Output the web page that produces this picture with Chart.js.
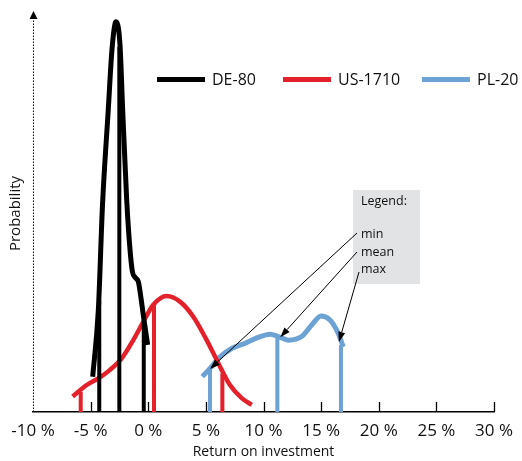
<!DOCTYPE html>
<html>
<head>
<meta charset="utf-8">
<script src="https://cdn.jsdelivr.net/npm/chart.js@4"></script>
<style>
  html, body { margin: 0; padding: 0; background: #fff; }
  #wrap { width: 522px; height: 461px; }
</style>
</head>
<body>
<div id="wrap"><canvas id="chart" width="522" height="461"></canvas></div>
<script>
// Return on investment (%) vs relative probability
const RETURN_TICKS = [-10, -5, 0, 5, 10, 15, 20, 25, 30];
const SERIES_NAMES = ["DE-80", "US-1710", "PL-20"];
const STAT_LABELS = ["min", "mean", "max"];

const deReturn = [-4.82, -4.33, -3.97, -3.47, -3.15, -2.80, -2.45, -2.22, -1.87, -1.58, -1.37, -1.11, -0.85, -0.63, -0.37, -0.05];
const deProb   = [8.9, 25.7, 52.1, 76.1, 91.2, 98.3, 92.4, 76.1, 53.4, 40.8, 35.3, 33.8, 32.7, 28.7, 23.2, 16.9];

const usReturn = [-6.56, -5.34, -4.19, -3.32, -2.30, -1.30, -0.43, 0.44, 1.60, 2.75, 3.91, 5.07, 6.08, 7.09, 8.11, 8.98];
const usProb   = [3.9, 6.8, 8.7, 10.6, 13.5, 18.1, 22.7, 27.0, 29.2, 27.8, 24.0, 18.1, 12.3, 6.8, 3.5, 1.8];

const plReturn = [4.69, 5.36, 6.23, 7.24, 8.39, 9.55, 10.56, 11.28, 12.15, 13.31, 14.18, 14.99, 15.77, 16.49, 16.92];
const plProb   = [8.9, 11.0, 13.9, 16.0, 17.3, 18.8, 19.6, 19.0, 18.1, 19.0, 21.9, 24.2, 23.2, 19.8, 16.4];

// min / mean / max markers: x position and height of each vertical line
const deStatReturn = [-4.25, -2.51, -0.39];
const deStatProb   = [28, 92, 23];
const usStatReturn = [-5.86, 0.50, 6.43];
const usStatProb   = [5.1, 27.0, 9.7];
const plStatReturn = [5.36, 11.2, 16.72];
const plStatProb   = [10.6, 18.6, 16.9];

const C = {
  de: "#000000",
  us: "#e4202a",
  pl: "#6da2d4",
  axis: "#000000",
  boxBg: "#e2e3e4",
  text: "#111111",
};
const FONT = "'Open Sans', 'DejaVu Sans', sans-serif";

const curve = (xs, ys) => xs.map((x, i) => ({ x, y: ys[i] }));
// one dataset per series for the stat lines, broken with nulls
const statLines = (xs, ys) => {
  const out = [];
  xs.forEach((x, i) => {
    out.push({ x, y: 0 }, { x, y: ys[i] }, { x, y: null });
  });
  return out;
};

const curveDs = (label, xs, ys, color, width) => ({
  label,
  data: curve(xs, ys),
  borderColor: color,
  backgroundColor: color,
  borderWidth: width,
  pointRadius: 0,
  cubicInterpolationMode: "monotone",
  fill: false,
});
const statDs = (label, xs, ys, color) => ({
  label,
  data: statLines(xs, ys),
  borderColor: color,
  borderWidth: 4,
  pointRadius: 0,
  tension: 0,
  spanGaps: false,
  borderCapStyle: "butt",
  fill: false,
});

// axis, legends and annotation arrows
const decor = {
  id: "decor",
  beforeDatasetsDraw(chart) {
    const { ctx, chartArea: a, scales: { x } } = chart;
    ctx.save();
    // dotted probability axis with arrow head
    ctx.strokeStyle = C.axis;
    ctx.lineWidth = 1;
    ctx.setLineDash([1.5, 1.5]);
    ctx.beginPath();
    ctx.moveTo(a.left + 0.5, a.bottom);
    ctx.lineTo(a.left + 0.5, a.top + 2);
    ctx.stroke();
    ctx.setLineDash([]);
    ctx.fillStyle = C.axis;
    ctx.beginPath();
    ctx.moveTo(a.left + 0.5, a.top - 4);
    ctx.lineTo(a.left + 4.5, a.top + 4);
    ctx.lineTo(a.left - 3.5, a.top + 4);
    ctx.closePath();
    ctx.fill();
    // tick marks pointing up from the x axis
    ctx.lineWidth = 1.3;
    RETURN_TICKS.slice(1).forEach((v) => {
      const px = Math.round(x.getPixelForValue(v)) + 0.5;
      ctx.beginPath();
      ctx.moveTo(px, a.bottom);
      ctx.lineTo(px, a.bottom - 10);
      ctx.stroke();
    });
    ctx.restore();
  },
  afterDraw(chart) {
    const { ctx, scales: { x, y } } = chart;
    ctx.save();
    // series legend
    const colors = [C.de, C.us, C.pl];
    const starts = [157, 283, 422];
    ctx.font = `16px ${FONT}`;
    ctx.textBaseline = "middle";
    SERIES_NAMES.forEach((name, i) => {
      ctx.fillStyle = colors[i];
      ctx.fillRect(starts[i], 77, 48, 5);
      ctx.fillStyle = C.text;
      ctx.fillText(name, starts[i] + 55, 80);
    });

    // grey stat legend box
    ctx.fillStyle = C.boxBg;
    ctx.fillRect(353, 190, 67, 94);
    ctx.fillStyle = C.text;
    ctx.font = `12.5px ${FONT}`;
    ctx.fillText("Legend:", 361, 201);
    const rowY = [234, 252, 269];
    STAT_LABELS.forEach((s, i) => ctx.fillText(s, 361, rowY[i]));

    // arrows from the labels to the PL-20 stat points
    const from = [[357, 233], [357, 252], [359, 272]];
    const nudge = [[0, -1], [3, -1], [-2, -3]];
    ctx.strokeStyle = "#000";
    ctx.fillStyle = "#000";
    ctx.lineWidth = 1;
    plStatReturn.forEach((v, i) => {
      const tx = x.getPixelForValue(v) + nudge[i][0];
      const ty = y.getPixelForValue(plStatProb[i]) + nudge[i][1];
      const [fx, fy] = from[i];
      const ang = Math.atan2(ty - fy, tx - fx);
      const len = 10, half = 3.5;
      const bx = tx - len * Math.cos(ang), by = ty - len * Math.sin(ang);
      ctx.beginPath();
      ctx.moveTo(fx, fy);
      ctx.lineTo(bx, by);
      ctx.stroke();
      ctx.beginPath();
      ctx.moveTo(tx, ty);
      ctx.lineTo(bx + half * Math.sin(ang), by - half * Math.cos(ang));
      ctx.lineTo(bx - half * Math.sin(ang), by + half * Math.cos(ang));
      ctx.closePath();
      ctx.fill();
    });
    ctx.restore();
  },
};

new Chart(document.getElementById("chart"), {
  type: "line",
  data: {
    datasets: [
      curveDs(SERIES_NAMES[0], deReturn, deProb, C.de, 5),
      statDs(SERIES_NAMES[0] + " stats", deStatReturn, deStatProb, C.de),
      curveDs(SERIES_NAMES[1], usReturn, usProb, C.us, 4.5),
      statDs(SERIES_NAMES[1] + " stats", usStatReturn, usStatProb, C.us),
      curveDs(SERIES_NAMES[2], plReturn, plProb, C.pl, 5),
      statDs(SERIES_NAMES[2] + " stats", plStatReturn, plStatProb, C.pl),
    ],
  },
  options: {
    responsive: false,
    devicePixelRatio: 1,
    animation: false,
    layout: { padding: { top: 15, right: 28, left: 7, bottom: 0 } },
    plugins: { legend: { display: false }, tooltip: { enabled: false } },
    scales: {
      x: {
        type: "linear",
        min: -10,
        max: 30,
        afterBuildTicks: (s) => { s.ticks = RETURN_TICKS.map((v) => ({ value: v })); },
        afterFit: (s) => { s.height = 49; },
        ticks: {
          color: C.text,
          padding: 9,
          font: { family: FONT, size: 17 },
          callback: (v) => `${v} %`,
          maxRotation: 0,
        },
        grid: { display: false, drawTicks: false },
        border: { display: true, color: C.axis, width: 1.5 },
        title: {
          display: true,
          text: "Return on investment",
          color: C.text,
          font: { family: FONT, size: 14 },
          padding: { top: 0, bottom: 1 },
        },
      },
      y: {
        min: 0,
        max: 100,
        ticks: { display: false },
        grid: { display: false, drawTicks: false },
        border: { display: false },
        title: {
          display: true,
          text: "Probability",
          color: C.text,
          font: { family: FONT, size: 15 },
          padding: { top: 0, bottom: 8 },
        },
      },
    },
  },
  plugins: [decor],
});
</script>
</body>
</html>
